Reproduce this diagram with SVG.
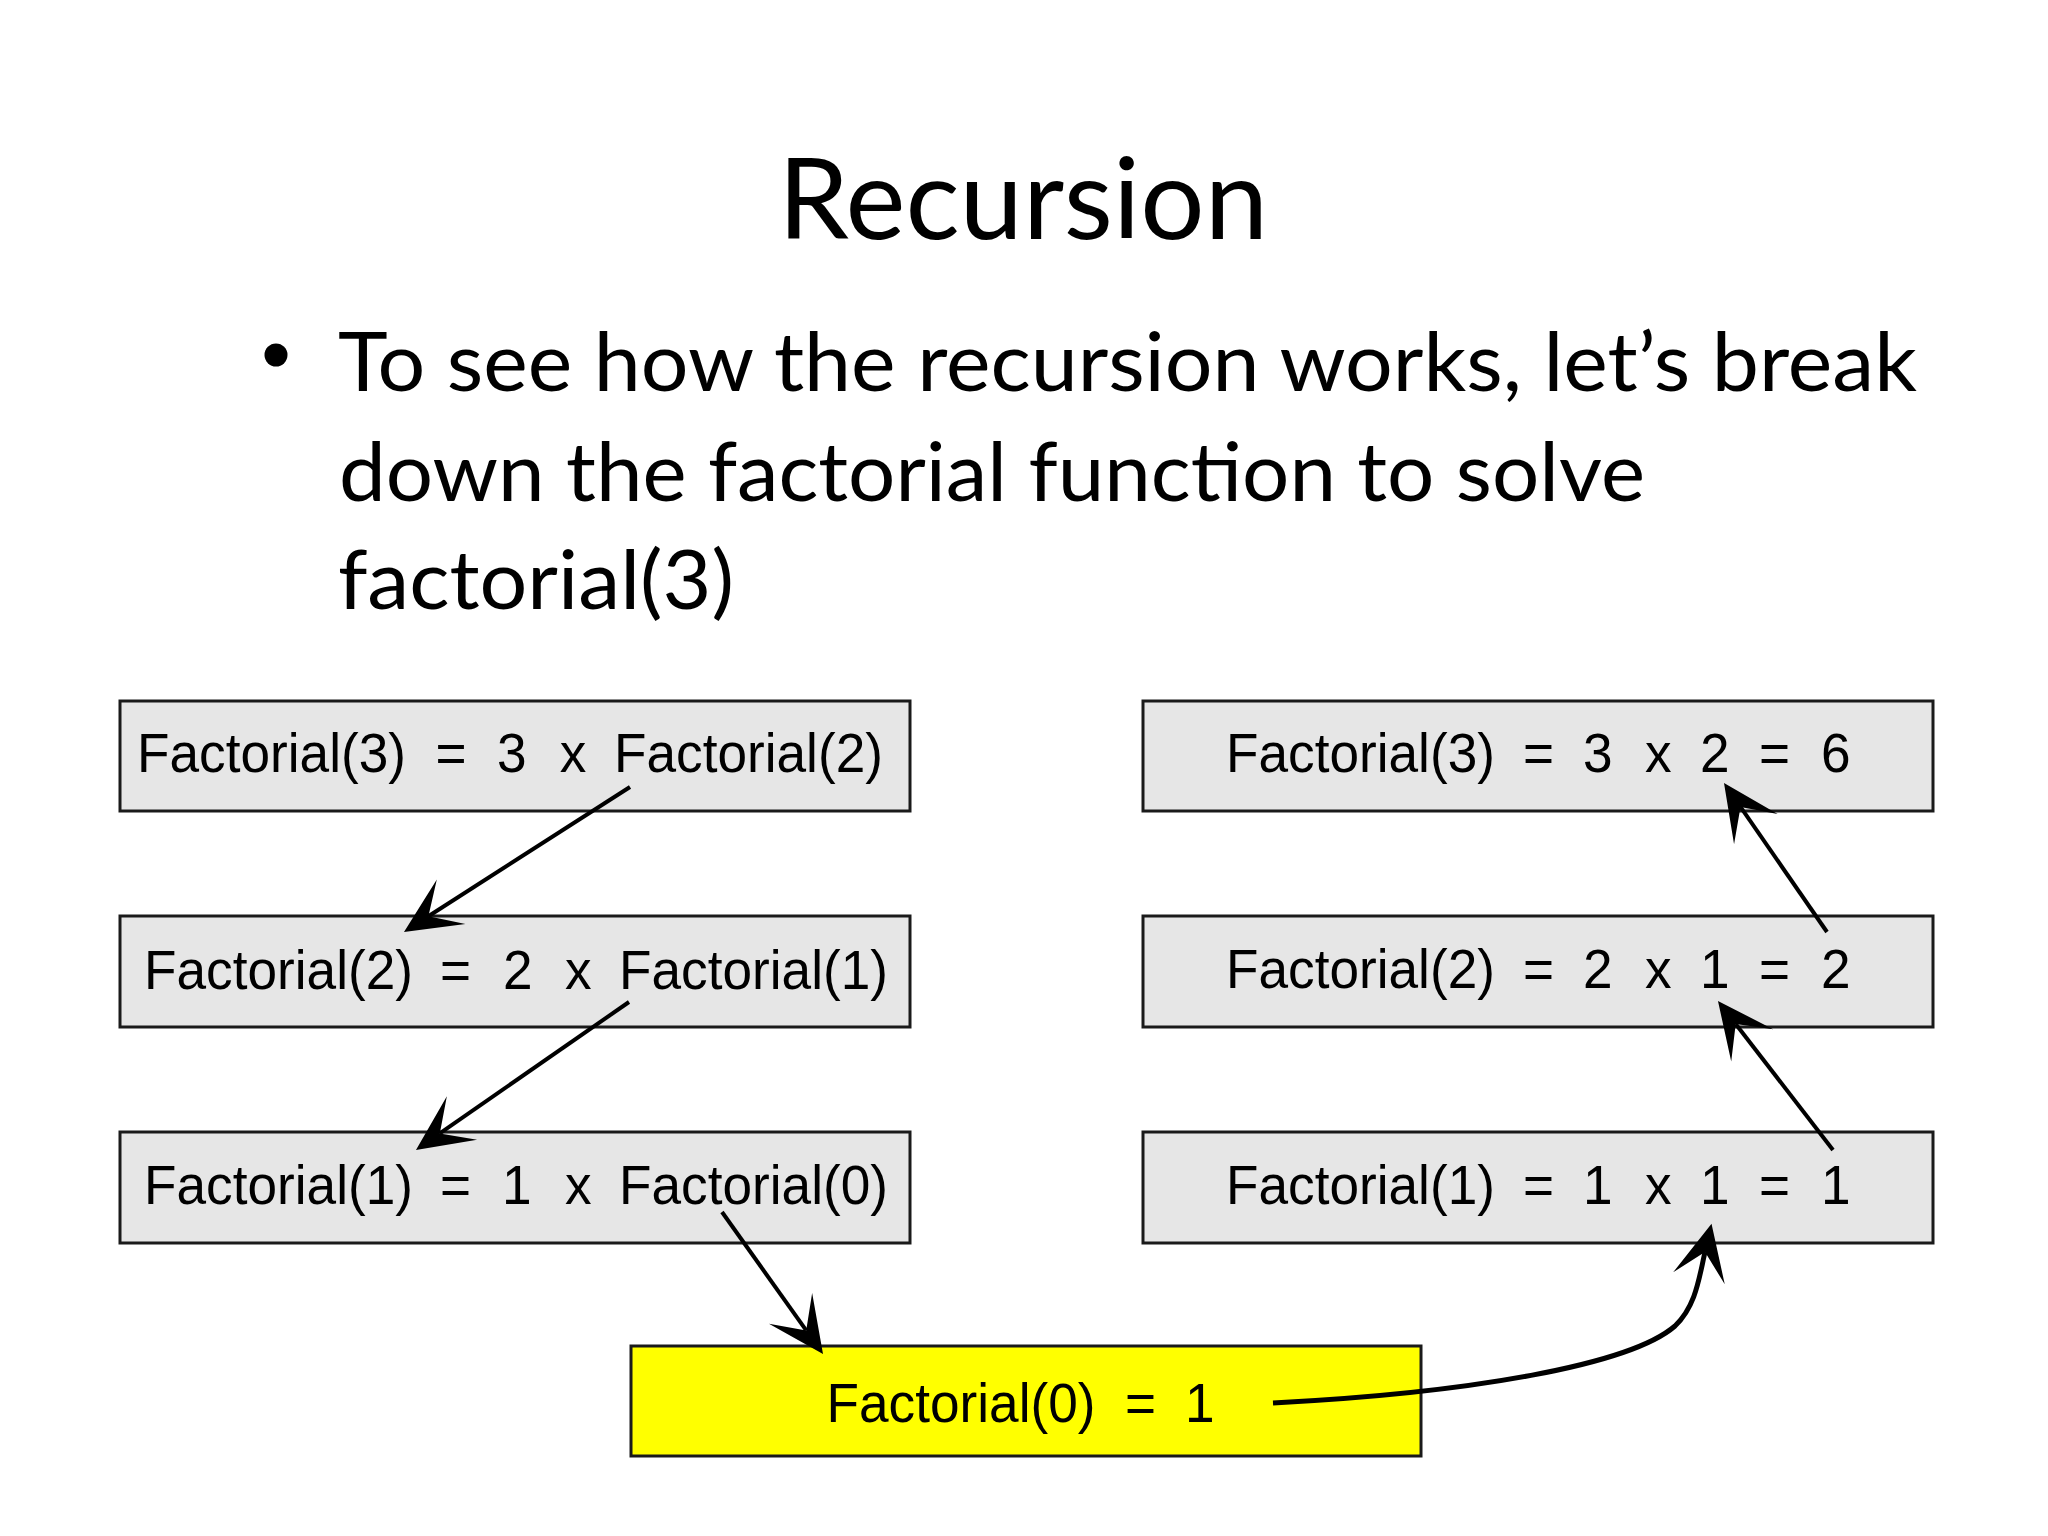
<svg xmlns="http://www.w3.org/2000/svg" width="2048" height="1536" viewBox="0 0 2048 1536">
<style>
.title{font-family:Lato,"Carlito","Liberation Sans",sans-serif;font-size:113px;fill:#000}
.body{font-family:Lato,"Carlito","Liberation Sans",sans-serif;font-size:81px;fill:#000}
.box{fill:#e6e6e6;stroke:#1a1a1a;stroke-width:3}
.base{fill:#ffff00;stroke:#1a1a1a;stroke-width:3}
.bt{font-family:"Liberation Sans",Arial,Helvetica,sans-serif;font-size:56px;fill:#000}
.conn{fill:none;stroke:#000;stroke-width:4;marker-end:url(#arr)}
</style>
<defs>
<marker id="arr" markerUnits="userSpaceOnUse" orient="auto" refX="0" refY="0" markerWidth="120" markerHeight="120" overflow="visible">
<path d="M29,0 L-27,-26.5 L0,0 L-27,26.5 Z" fill="#000"/>
</marker>
</defs>
<rect width="2048" height="1536" fill="#fff"/>
<text class="title" x="778" y="239" textLength="490" lengthAdjust="spacingAndGlyphs">Recursion</text>
<g id="bullet">
<circle cx="276" cy="355" r="11.5" fill="#000"/>
<text class="body" x="338" y="391" textLength="1579" lengthAdjust="spacingAndGlyphs">To see how the recursion works, let’s break</text>
<text class="body" x="339" y="501" textLength="1306" lengthAdjust="spacingAndGlyphs">down the factorial function to solve</text>
<text class="body" x="338" y="609" textLength="396" lengthAdjust="spacingAndGlyphs">factorial(3)</text>
</g>
<g id="n-l3">
<rect class="box" x="120" y="701" width="790" height="110"/>
<text class="bt" transform="scale(0.95,1)" y="772"><tspan x="144.2">Factorial(3) </tspan><tspan x="458.4">= </tspan><tspan x="523.2">3 </tspan><tspan x="589.1">x </tspan><tspan x="646.3">Factorial(2)</tspan></text>
</g>
<g id="n-l2">
<rect class="box" x="120" y="916" width="790" height="111"/>
<text class="bt" transform="scale(0.95,1)" y="989"><tspan x="151.6">Factorial(2) </tspan><tspan x="463.2">= </tspan><tspan x="529.5">2 </tspan><tspan x="594.7">x </tspan><tspan x="651.6">Factorial(1)</tspan></text>
</g>
<g id="n-l1">
<rect class="box" x="120" y="1132" width="790" height="111"/>
<text class="bt" transform="scale(0.95,1)" y="1204"><tspan x="151.6">Factorial(1) </tspan><tspan x="463.2">= </tspan><tspan x="528.4">1 </tspan><tspan x="594.7">x </tspan><tspan x="651.6">Factorial(0)</tspan></text>
</g>
<g id="n-r3">
<rect class="box" x="1143" y="701" width="790" height="110"/>
<text class="bt" transform="scale(0.95,1)" y="772"><tspan x="1290.5">Factorial(3) </tspan><tspan x="1603.2">= </tspan><tspan x="1666.3">3 </tspan><tspan x="1731.6">x </tspan><tspan x="1789.5">2 </tspan><tspan x="1851.6">= </tspan><tspan x="1916.8">6</tspan></text>
</g>
<g id="n-r2">
<rect class="box" x="1143" y="916" width="790" height="111"/>
<text class="bt" transform="scale(0.95,1)" y="988"><tspan x="1290.5">Factorial(2) </tspan><tspan x="1603.2">= </tspan><tspan x="1666.3">2 </tspan><tspan x="1731.6">x </tspan><tspan x="1789.5">1 </tspan><tspan x="1851.6">= </tspan><tspan x="1916.8">2</tspan></text>
</g>
<g id="n-r1">
<rect class="box" x="1143" y="1132" width="790" height="111"/>
<text class="bt" transform="scale(0.95,1)" y="1204"><tspan x="1290.5">Factorial(1) </tspan><tspan x="1603.2">= </tspan><tspan x="1666.3">1 </tspan><tspan x="1731.6">x </tspan><tspan x="1789.5">1 </tspan><tspan x="1851.6">= </tspan><tspan x="1916.8">1</tspan></text>
</g>
<g id="n-base">
<rect class="base" x="631" y="1346" width="790" height="110"/>
<text class="bt" transform="scale(0.95,1)" y="1422"><tspan x="870">Factorial(0) </tspan><tspan x="1184.2">= </tspan><tspan x="1247.4">1</tspan></text>
</g>
<g id="connectors">
<path class="conn" d="M630,787 L428.4,916.3"/>
<path class="conn" d="M629,1002 L439.8,1133.4"/>
<path class="conn" d="M722,1212 L806.2,1330.4"/>
<path class="conn" d="M1827,932 L1740.5,806.9"/>
<path class="conn" d="M1833,1150 L1735.7,1024"/>
<path class="conn" style="stroke-width:5" d="M1273,1403 C1470,1393 1630,1365 1675,1326 C1696,1306 1699,1278 1705,1252"/>
</g>
</svg>
